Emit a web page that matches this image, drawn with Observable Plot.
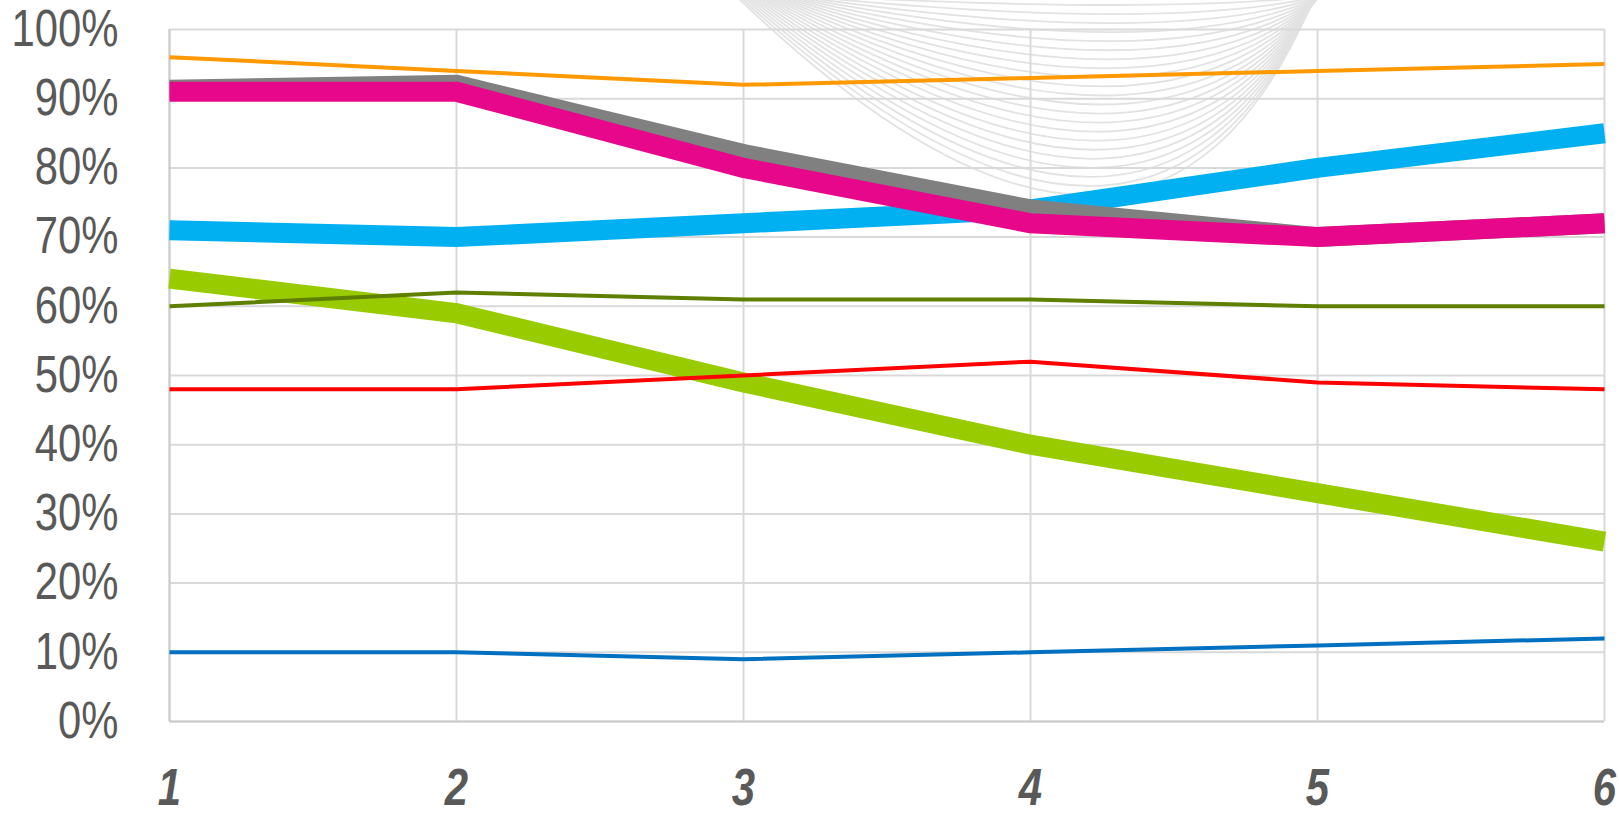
<!DOCTYPE html>
<html>
<head>
<meta charset="utf-8">
<script src="https://cdn.jsdelivr.net/npm/d3@7"></script>
<script src="https://cdn.jsdelivr.net/npm/@observablehq/plot@0.6"></script>
<style>
  html, body { margin: 0; padding: 0; background: #ffffff; }
  #chart { position: relative; width: 1619px; height: 814px; }
  #deco { position: absolute; left: 0; top: 0; }
  #plot { position: absolute; left: 0; top: 0; }
  #plot svg { background: transparent !important; }
</style>
</head>
<body>
<div id="chart"><svg id="deco" width="1619" height="814"></svg><div id="plot"></div></div>
<script>
// ---- data ----
const categories = [1, 2, 3, 4, 5, 6];
const yTicks = [0, 10, 20, 30, 40, 50, 60, 70, 80, 90, 100];

const seriesBlueThick  = [71, 70, 72, 74, 80, 85];
const seriesLimeThick  = [64, 59, 49, 40, 33, 26];
const seriesGrayThick  = [91.3, 92, 82, 74, 70, 72];
const seriesPinkThick  = [91, 91, 80, 72, 70, 72];
const seriesOrange     = [96, 94, 92, 93, 94, 95];
const seriesOlive      = [60, 62, 61, 61, 60, 60];
const seriesRed        = [48, 48, 50, 52, 49, 48];
const seriesBlueThin   = [10, 10, 9, 10, 11, 12];

const seriesNames  = ["Blue thick", "Lime thick", "Gray thick", "Pink thick", "Orange", "Olive", "Red", "Blue thin"];
const seriesValues = [seriesBlueThick, seriesLimeThick, seriesGrayThick, seriesPinkThick, seriesOrange, seriesOlive, seriesRed, seriesBlueThin];
const seriesColors = ["#00B0F0", "#99CC00", "#808080", "#E6078A", "#FF9900", "#5F7F00", "#FF0000", "#0070C0"];
const seriesWidths = [20, 20, 20, 20, 4, 4, 4, 4];

const rows = seriesNames.flatMap((name, i) =>
  categories.map((c, j) => ({series: name, x: c, y: seriesValues[i][j]}))
);

// ---- faint decorative background swirl ----
(function drawDeco() {
  const svg = d3.select("#deco");
  const n = 22;
  for (let i = 0; i < n; i++) {
    const t = i / (n - 1);
    const depth = 5 + t * 190;
    const x0 = 735 + (1 - t) * 60;
    const x2 = 1325 - t * 10;
    const cx = 1170 - t * 20;
    const cy = 2 * depth + 5;
    const p = d3.path();
    p.moveTo(x0, -5);
    p.quadraticCurveTo(cx, cy, x2, -5);
    svg.append("path").attr("d", p.toString())
      .attr("fill", "none").attr("stroke", "#E2E2E2").attr("stroke-width", 1.8);
  }
})();

// ---- chart ----
const fontFamily = '"Liberation Sans", Arial, sans-serif';

const lineMarks = seriesNames.map((name, i) =>
  Plot.line(rows.filter(d => d.series === name), {
    x: "x", y: "y",
    stroke: seriesColors[i],
    strokeWidth: seriesWidths[i],
    strokeLinecap: "butt",
    strokeLinejoin: "miter",
    strokeMiterlimit: 10
  })
);

const chart = Plot.plot({
  width: 1619,
  height: 814,
  marginLeft: 169,
  marginRight: 15,
  marginTop: 29,
  marginBottom: 93,
  style: {fontFamily: fontFamily, background: "transparent", color: "#595959", overflow: "visible"},
  x: {type: "linear", domain: [1, 6]},
  y: {domain: [0, 100]},
  marks: [
    Plot.gridY(yTicks, {stroke: "#D9D9D9", strokeOpacity: 1, strokeWidth: 2}),
    Plot.gridX(categories, {stroke: "#D9D9D9", strokeOpacity: 1, strokeWidth: 2}),
    Plot.ruleX([1], {stroke: "#CCCCCC", strokeWidth: 2}),
    Plot.ruleY([0], {stroke: "#CCCCCC", strokeWidth: 2}),
    ...lineMarks,
    Plot.axisY(yTicks, {
      tickSize: 0, tickPadding: 51, label: null,
      tickFormat: d => d + "%",
      fontSize: 51, color: "#595959", fontFamily: fontFamily
    }),
    Plot.axisX(categories, {
      tickSize: 0, tickPadding: 47, label: null,
      tickFormat: d => String(d),
      fontSize: 51, fontWeight: "bold", fontStyle: "italic",
      color: "#595959", fontFamily: fontFamily
    })
  ]
});
document.getElementById("plot").appendChild(chart);

// emulate a narrow (condensed) typeface by compressing tick labels horizontally
chart.querySelectorAll('g[aria-label="y-axis tick label"] text, g[aria-label="x-axis tick label"] text').forEach(t => {
  const L = t.getComputedTextLength();
  t.setAttribute("textLength", (L * 0.82).toFixed(1));
  t.setAttribute("lengthAdjust", "spacingAndGlyphs");
});
</script>
</body>
</html>
